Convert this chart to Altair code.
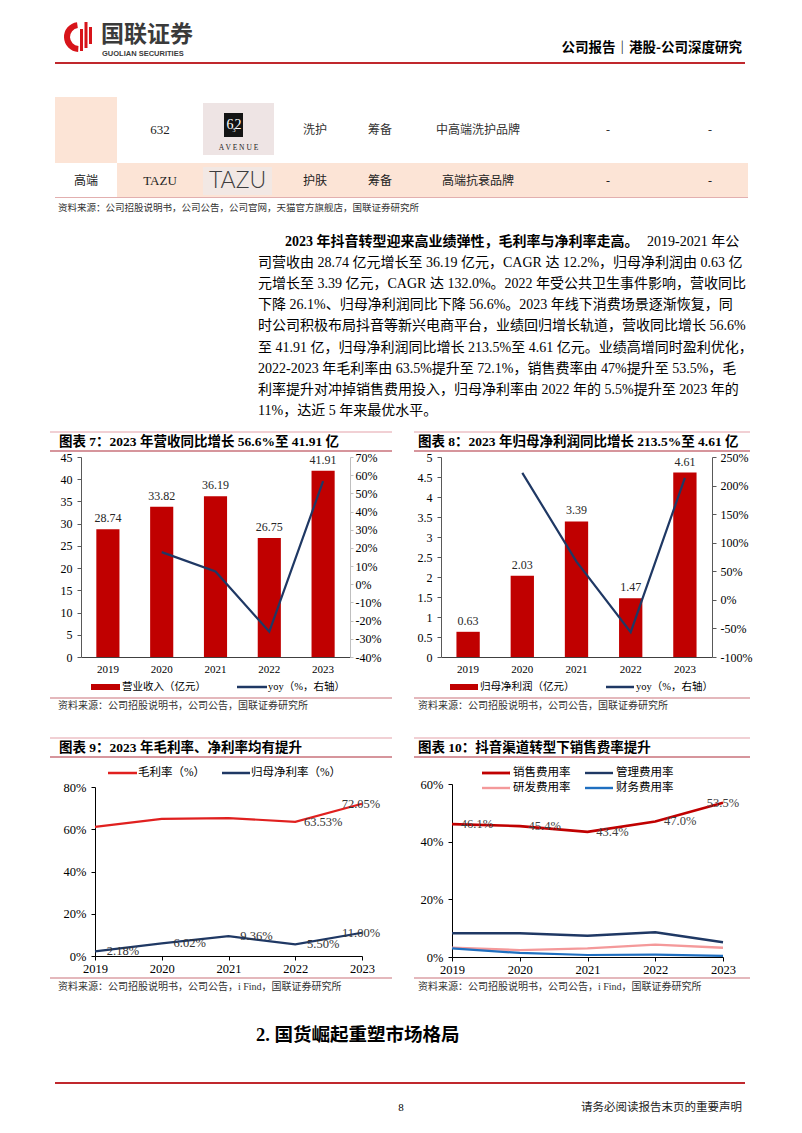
import altair as alt
import pandas as pd

# ---------------- data ----------------
years = ["2019", "2020", "2021", "2022", "2023"]
revenue = [28.74, 33.82, 36.19, 26.75, 41.91]
revenue_yoy = [17.7, 7.0, -26.1, 56.7]          # 2020-2023
profit = [0.63, 2.03, 3.39, 1.47, 4.61]
profit_yoy = [222.2, 67.0, -56.6, 213.6]        # 2020-2023
gross_margin = [61.1, 64.9, 65.3, 63.53, 72.05]
net_margin = [2.18, 6.02, 9.36, 5.50, 11.00]
gross_label_years = ["2022", "2023"]
selling_rate = [46.1, 45.4, 43.4, 47.0, 53.5]
admin_rate = [8.2, 8.2, 7.4, 8.6, 5.1]
rnd_rate = [3.2, 2.4, 3.0, 4.3, 3.2]
finance_rate = [3.0, 1.4, 0.7, 0.8, 0.4]
expense_series = ["销售费用率", "管理费用率", "研发费用率", "财务费用率"]

rev_ticks = [0, 5, 10, 15, 20, 25, 30, 35, 40, 45]
rev_yoy_ticks = [-40, -30, -20, -10, 0, 10, 20, 30, 40, 50, 60, 70]
profit_ticks = [0, 0.5, 1, 1.5, 2, 2.5, 3, 3.5, 4, 4.5, 5]
profit_yoy_ticks = [-100, -50, 0, 50, 100, 150, 200, 250]
margin_ticks = [0, 20, 40, 60, 80]
expense_ticks = [0, 20, 40, 60]

table_row1 = ["", "632", "洗护", "筹备", "中高端洗护品牌", "-", "-"]
table_row2 = ["高端", "TAZU", "护肤", "筹备", "高端抗衰品牌", "-", "-"]

para_bold = "2023 年抖音转型迎来高业绩弹性，毛利率与净利率走高。"
para_lines = [
    "2019-2021 年公",
    "司营收由 28.74 亿元增长至 36.19 亿元，CAGR 达 12.2%，归母净利润由 0.63 亿",
    "元增长至 3.39 亿元，CAGR 达 132.0%。2022 年受公共卫生事件影响，营收同比",
    "下降 26.1%、归母净利润同比下降 56.6%。2023 年线下消费场景逐渐恢复，同",
    "时公司积极布局抖音等新兴电商平台，业绩回归增长轨道，营收同比增长 56.6%",
    "至 41.91 亿，归母净利润同比增长 213.5%至 4.61 亿元。业绩高增同时盈利优化，",
    "2022-2023 年毛利率由 63.5%提升至 72.1%，销售费率由 47%提升至 53.5%，毛",
    "利率提升对冲掉销售费用投入，归母净利率由 2022 年的 5.5%提升至 2023 年的",
    "11%，达近 5 年来最优水平。",
]

titles = [
    "图表 7：2023 年营收同比增长 56.6%至 41.91 亿",
    "图表 8：2023 年归母净利润同比增长 213.5%至 4.61 亿",
    "图表 9：2023 年毛利率、净利率均有提升",
    "图表 10：抖音渠道转型下销售费率提升",
]
legend7 = ["营业收入（亿元）", "yoy（%，右轴）"]
legend8 = ["归母净利润（亿元）", "yoy（%，右轴）"]
legend9 = ["毛利率（%）", "归母净利率（%）"]
src_table = "资料来源：公司招股说明书，公司公告，公司官网，天猫官方旗舰店，国联证券研究所"
src_top = "资料来源：公司招股说明书，公司公告，国联证券研究所"
src_bottom = "资料来源：公司招股说明书，公司公告，i Find，国联证券研究所"

# ---------------- layout helpers ----------------
W, H = 786, 1117
def X(v):
    return v - 8
def Y(v):
    return v - 8

SERIF = "Liberation Serif, Noto Sans CJK SC"
CJK = "Noto Sans CJK SC"
RED = "#C00000"
NAVY = "#1F3864"
PINK1 = "#E3A1A9"
PINK2 = "#C9727B"
BLANK = pd.DataFrame({"k": [0]})


def T(s, x, y, size=12, weight="normal", align="left", color="#000", font=SERIF):
    return alt.Chart(BLANK).mark_text(
        text=s, font=font, fontSize=size, fontWeight=weight, align=align,
        baseline="middle", color=color,
    ).encode(x=alt.value(X(x)), y=alt.value(Y(y)))


def R(x1, x2, y, color, width=1.0):
    return alt.Chart(BLANK).mark_rule(color=color, strokeWidth=width).encode(
        x=alt.value(X(x1)), x2=alt.value(X(x2)), y=alt.value(Y(y)))


def B(x1, x2, y1, y2, color):
    return alt.Chart(BLANK).mark_rect(color=color).encode(
        x=alt.value(X(x1)), x2=alt.value(X(x2)), y=alt.value(Y(y1)), y2=alt.value(Y(y2)))


layers = []

# ---------------- header ----------------
layers.append(alt.Chart(BLANK).mark_arc(theta=3.2, theta2=6.15, radius=15, radius2=9,
                                        color="#D7141A").encode(x=alt.value(X(79)), y=alt.value(Y(37))))
layers += [B(80, 83, 29, 51, "#D7141A"), B(84.5, 87.5, 22, 48, "#D7141A"), B(89, 92, 27, 44, "#D7141A")]
layers.append(T("国联证券", 101, 35, size=23, weight="bold", color="#3a3a3a", font=CJK))
layers.append(T("GUOLIAN SECURITIES", 102, 54, size=7.5, weight="bold", color="#3a3a3a", font="Liberation Sans"))
layers.append(T("公司报告｜港股-公司深度研究", 742, 48, size=13.5, weight="bold", align="right", font=CJK))
layers.append(R(55, 745, 63, "#C0282D", 2))

# ---------------- table ----------------
PEACH = "#FCE4D6"
layers += [B(55, 117, 97, 163, PEACH), B(117, 748, 163, 197, PEACH)]
layers.append(R(55, 748, 197.5, "#E2AFAF", 1))
# 632 AVENUE logo
layers += [B(203, 274, 103, 155, "#EEE4E4"), B(224, 243, 113, 137, "#141414")]
layers.append(T("6", 230, 125, size=14, color="#fff", font="Liberation Serif", align="center"))
layers.append(T("3", 234, 130, size=6, color="#fff", font="Liberation Serif", align="center"))
layers.append(T("2", 238, 125, size=14, color="#fff", font="Liberation Serif", align="center"))
layers.append(T("A  V  E  N  U  E", 238.5, 148, size=7.5, color="#222", font="Liberation Serif", align="center"))
# TAZU logo
layers.append(B(203, 272, 167, 195, "#F2E8E4"))
layers.append(T("TAZU", 237.5, 181, size=23, color="#3d3d3d", font="Lato", weight=300, align="center"))
col_x = [86, 160, 315, 380, 478, 608, 710]
for i, s in enumerate(table_row1):
    if s and i != 1:
        layers.append(T(s, col_x[i], 130, size=12, color="#333", align="center"))
    elif i == 1:
        layers.append(T(s, col_x[i], 130, size=13, color="#222", align="center"))
for i, s in enumerate(table_row2):
    layers.append(T(s, col_x[i], 181, size=13 if i == 1 else 12, color="#222", align="center"))
layers.append(T(src_table, 58, 208, size=9.5, color="#333"))

# ---------------- paragraph ----------------
layers.append(T(para_bold, 285, 242, size=14, weight="bold"))
layers.append(T(para_lines[0], 647, 242, size=14))
for i, s in enumerate(para_lines[1:]):
    layers.append(T(s, 258, 242 + 21.1 * (i + 1), size=14))

# ---------------- chart title bars ----------------
def title_bar(title, x1, x2, ytop, ybot, tx):
    return [R(x1, x2, ytop, PINK1, 1.2), R(x1, x2, ybot, PINK2, 1.5),
            T(title, tx, (ytop + ybot) / 2, size=13.5, weight="bold")]

layers += title_bar(titles[0], 50, 392, 432, 451, 59)
layers += title_bar(titles[1], 414, 750, 432, 451, 418)
layers += title_bar(titles[2], 50, 392, 738, 757, 59)
layers += title_bar(titles[3], 414, 750, 738, 757, 418)

layers += [R(50, 392, 698, PINK2, 1.2), T(src_top, 58, 706, size=10, color="#333")]
layers += [R(414, 750, 698, PINK2, 1.2), T(src_top, 418, 706, size=10, color="#333")]
layers += [R(50, 392, 978, PINK2, 1.2), T(src_bottom, 58, 987, size=10, color="#333")]
layers += [R(414, 750, 978, PINK2, 1.2), T(src_bottom, 418, 987, size=10, color="#333")]

# ---------------- bar + yoy panels ----------------
def bar_panel(values, yoys, x0, x1, ytop, ybot, ldom, lvals, lfmt, rdom, rvals, rdomain_color,
              rtick, rpad, lpad):
    df_bar = pd.DataFrame({"year": years, "value": values})
    df_line = pd.DataFrame({"year": years[1:], "yoy": yoys})
    xenc = alt.X("year:N", sort=years, title=None,
                 scale=alt.Scale(domain=years, range=[X(x0), X(x1)], paddingInner=0.57, paddingOuter=0.285),
                 axis=alt.Axis(orient="bottom", offset=Y(ybot) - H, ticks=False, labelPadding=6,
                               labelFontSize=11, labelFont=SERIF, labelColor="#000",
                               domainColor="#404040", labelAngle=0))
    yenc = alt.Y("value:Q", title=None,
                 scale=alt.Scale(domain=ldom, range=[Y(ybot), Y(ytop)], nice=False, zero=False),
                 axis=alt.Axis(orient="left", offset=-X(x0), values=lvals, format=lfmt, grid=False,
                               tickSize=4, labelPadding=lpad, labelFontSize=12, labelFont=SERIF,
                               labelColor="#000", domainColor="#595959", tickColor="#595959"))
    bars = alt.Chart(df_bar).mark_bar(color=RED).encode(x=xenc, y=yenc)
    labels = alt.Chart(df_bar).mark_text(dy=-11, font=SERIF, fontSize=12, color="#262626").encode(
        x=xenc, y=yenc, text=alt.Text("value:Q", format=".2f"))
    yenc2 = alt.Y("yoy:Q", title=None,
                  scale=alt.Scale(domain=rdom, range=[Y(ybot), Y(ytop)], nice=False, zero=False),
                  axis=alt.Axis(orient="right", offset=X(x1) - W, values=rvals, grid=False,
                                labelExpr="datum.value + '%'", tickSize=rtick, labelPadding=rpad,
                                labelFontSize=12, labelFont=SERIF, labelColor="#000",
                                domainColor=rdomain_color, tickColor=rdomain_color))
    line = alt.Chart(df_line).mark_line(color=NAVY, strokeWidth=2.2).encode(x=xenc, y=yenc2)
    return alt.layer(alt.layer(bars, labels), line).resolve_scale(y="independent")


layers.append(bar_panel(revenue, revenue_yoy, 81, 350, 457, 657, [0, 45], rev_ticks, "d",
                        [-40, 70], rev_yoy_ticks, "#BFBFBF", 3, 2, 5))
layers.append(bar_panel(profit, profit_yoy, 441, 712, 457, 657, [0, 5], profit_ticks, "~g",
                        [-100, 250], profit_yoy_ticks, "#595959", 4, 4, 5))

# legends for bar panels
layers += [B(91, 120, 684, 690, RED), T(legend7[0], 122, 687, size=10.5),
           R(237, 267, 687, NAVY, 2.5), T(legend7[1], 268, 687, size=10.5)]
layers += [B(450, 478, 684, 690, RED), T(legend8[0], 480, 687, size=10.5),
           R(606, 634, 687, NAVY, 2.5), T(legend8[1], 636, 687, size=10.5)]

# ---------------- margin line panel ----------------
def line_axes(x0, x1, ytop, ybot, dom, vals):
    xenc = alt.X("year:O", sort=years, title=None,
                 scale=alt.Scale(type="point", domain=years, range=[X(x0), X(x1)], padding=0),
                 axis=alt.Axis(orient="bottom", offset=Y(ybot) - H, tickSize=4, labelPadding=2,
                               labelFontSize=12.5, labelFont=SERIF, labelColor="#000",
                               domainColor="#000", tickColor="#000", labelAngle=0))
    yenc = alt.Y("value:Q", title=None,
                 scale=alt.Scale(domain=dom, range=[Y(ybot), Y(ytop)], nice=False, zero=False),
                 axis=alt.Axis(orient="left", offset=-X(x0), values=vals, grid=False,
                               labelExpr="datum.value + '%'", tickSize=4, labelPadding=5,
                               labelFontSize=12.5, labelFont=SERIF, labelColor="#000",
                               domainColor="#000", tickColor="#000"))
    return xenc, yenc


x9, y9 = line_axes(95, 362, 787, 956, [0, 80], margin_ticks)
df9 = pd.DataFrame({
    "year": years * 2,
    "series": ["毛利率"] * 5 + ["归母净利率"] * 5,
    "value": gross_margin + net_margin,
})
df9["show"] = [y in gross_label_years for y in years] + [True] * 5
col9 = alt.Color("series:N", scale=alt.Scale(domain=["毛利率", "归母净利率"], range=["#E0201F", NAVY]), legend=None)
lines9 = alt.Chart(df9).mark_line(strokeWidth=2.2).encode(x=x9, y=y9, color=col9)
lab_base9 = alt.Chart(df9).transform_filter("datum.show").transform_calculate(
    lab="format(datum.value, '.2f') + '%'")
lab9a = lab_base9.transform_filter("datum.year != '2023'").mark_text(
    dx=28, font=SERIF, fontSize=12.5, color="#333").encode(x=x9, y=y9, text="lab:N")
lab9b = lab_base9.transform_filter("datum.year == '2023'").mark_text(
    dx=-1, font=SERIF, fontSize=12.5, color="#333").encode(x=x9, y=y9, text="lab:N")
layers.append(alt.layer(lines9, lab9a, lab9b))
layers += [R(108, 137, 773, "#E0201F", 2.5), T(legend9[0], 138, 773, size=11.5),
           R(222, 250, 773, NAVY, 2.5), T(legend9[1], 251, 773, size=11.5)]

# ---------------- expense line panel ----------------
x10, y10 = line_axes(452, 723, 784, 957, [0, 60], expense_ticks)
df10 = pd.DataFrame({
    "year": years * 4,
    "series": [s for s in expense_series for _ in years],
    "value": selling_rate + admin_rate + rnd_rate + finance_rate,
})
EXP_COLORS = [RED, NAVY, "#F4999A", "#1F6FC0"]
col10 = alt.Color("series:N", scale=alt.Scale(domain=expense_series, range=EXP_COLORS), legend=None)
sw10 = alt.StrokeWidth("series:N", scale=alt.Scale(domain=expense_series, range=[2.6, 2.2, 2.0, 2.2]), legend=None)
lines10 = alt.Chart(df10).mark_line().encode(x=x10, y=y10, color=col10, strokeWidth=sw10)
lab_base10 = alt.Chart(df10).transform_filter(
    alt.datum.series == expense_series[0]).transform_calculate(lab="format(datum.value, '.1f') + '%'")
lab10a = lab_base10.transform_filter("datum.year != '2023'").mark_text(
    dx=25, font=SERIF, fontSize=12.5, color="#404040").encode(x=x10, y=y10, text="lab:N")
lab10b = lab_base10.transform_filter("datum.year == '2023'").mark_text(
    dx=0, font=SERIF, fontSize=12.5, color="#404040").encode(x=x10, y=y10, text="lab:N")
layers.append(alt.layer(lines10, lab10a, lab10b))
leg_pos = [(482, 773), (585, 773), (482, 788), (585, 788)]
for (lx, ly), name, c in zip(leg_pos, expense_series, EXP_COLORS):
    layers += [R(lx, lx + 28, ly, c, 2.8 if c == RED else 2.4), T(name, lx + 31, ly, size=11.5)]

# ---------------- section heading & footer ----------------
layers.append(T("2. 国货崛起重塑市场格局", 256, 1035, size=18.5, weight="bold"))
layers.append(R(55, 745, 1083, "#C0282D", 2))
layers.append(T("8", 401, 1108, size=11, align="center"))
layers.append(T("请务必阅读报告末页的重要声明", 742, 1108, size=11.5, align="right", color="#222"))

chart = alt.layer(*layers).resolve_scale(
    x="independent", y="independent", color="independent", strokeWidth="independent"
).resolve_axis(x="independent", y="independent").properties(
    width=W, height=H, padding=0, autosize=alt.AutoSizeParams(type="none"), background="white"
).configure_view(stroke=None)

chart.save("out.html", embed_options={"renderer": "svg", "actions": False})
